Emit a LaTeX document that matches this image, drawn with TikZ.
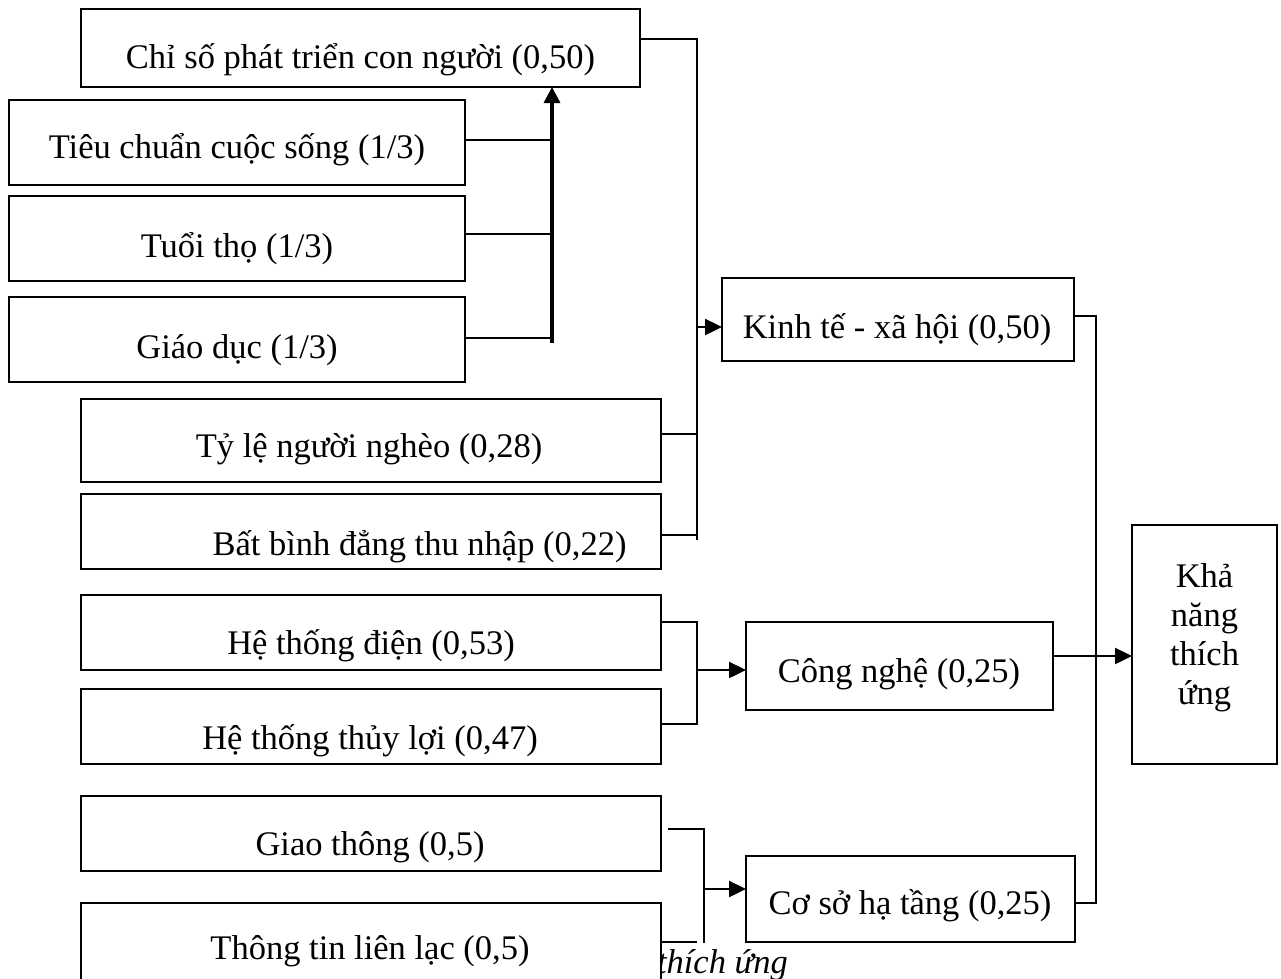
\documentclass[tikz,border=0pt]{standalone}
\usepackage{fontspec}
\setmainfont{Liberation Serif}
\usetikzlibrary{arrows.meta}
\begin{document}
\begin{tikzpicture}[x=1pt,y=-1pt,
  box/.style={draw,line width=2.8pt,fill=white,rectangle,inner sep=0pt,outer sep=0pt},
  tx/.style={anchor=base,inner sep=0pt,outer sep=0pt,font=\fontsize{34.5}{39}\selectfont},
  ln/.style={line width=2.4pt},
  arr/.style={ln,-{Triangle[length=17pt,width=16pt]}},
  arrthick/.style={line width=3.2pt,-{Triangle[length=16pt,width=16pt]}}]
\useasboundingbox (0,0) rectangle (1281,978);
\clip (0,0) rectangle (1281,978);
% caption fragment (behind the last box)
\node[tx,anchor=base west,font=\fontsize{34.5}{39}\selectfont\itshape] (cap) at (657,973) {thích ứng};
% boxes
\node[box,minimum width=559pt,minimum height=78pt] (hdi) at (360.5,48) {};
\node[box,minimum width=456pt,minimum height=85pt] (tieu) at (237,142.5) {};
\node[box,minimum width=456pt,minimum height=85pt] (tuoi) at (237,238.5) {};
\node[box,minimum width=456pt,minimum height=85pt] (giao) at (237,339.5) {};
\node[box,minimum width=580pt,minimum height=83pt] (tyle) at (371,440.5) {};
\node[box,minimum width=580pt,minimum height=75pt] (batbinh) at (371,531.5) {};
\node[box,minimum width=580pt,minimum height=75pt] (dien) at (371,632.5) {};
\node[box,minimum width=580pt,minimum height=75pt] (thuyloi) at (371,726.5) {};
\node[box,minimum width=580pt,minimum height=75pt] (giaothong) at (371,833.5) {};
\node[box,minimum width=580pt,minimum height=97pt] (ttll) at (371,951.5) {};
\node[box,minimum width=352pt,minimum height=83pt] (kt) at (898,319.5) {};
\node[box,minimum width=307pt,minimum height=88pt] (cn) at (899.5,666) {};
\node[box,minimum width=329pt,minimum height=86pt] (cs) at (910.5,899) {};
\node[box,minimum width=145pt,minimum height=239pt] (kn) at (1204.5,644.5) {};
% texts
\node[tx] (thdi) at (360.5,68) {Chỉ số phát triển con người (0,50)};
\node[tx] (ttieu) at (237,158) {Tiêu chuẩn cuộc sống (1/3)};
\node[tx] (ttuoi) at (237,257) {Tuổi thọ (1/3)};
\node[tx] (tgiao) at (237,358) {Giáo dục (1/3)};
\node[tx] (ttyle) at (369,457) {Tỷ lệ người nghèo (0,28)};
\node[tx] (tbb) at (419.5,555) {Bất bình đẳng thu nhập (0,22)};
\node[tx] (tdien) at (371,654) {Hệ thống điện (0,53)};
\node[tx] (ttl) at (370,749) {Hệ thống thủy lợi (0,47)};
\node[tx] (tgt) at (370,855) {Giao thông (0,5)};
\node[tx] (tttll) at (370,959) {Thông tin liên lạc (0,5)};
\node[tx] (tkt) at (897,338) {Kinh tế - xã hội (0,50)};
\node[tx] (tcn) at (899,682) {Công nghệ (0,25)};
\node[tx] (tcs) at (910,914) {Cơ sở hạ tầng (0,25)};
\node[tx,align=center] (tkn) at (1204.5,704) {Khả\\năng\\thích\\ứng};
% HDI sub-indicators
\coordinate (b1) at (552,140);
\coordinate (b2) at (552,234);
\coordinate (b3) at (552,338);
\coordinate (b0) at (552,343);
\draw[ln] (tieu.east |- b1) -- (b1);
\draw[ln] (tuoi.east |- b2) -- (b2);
\draw[ln] (giao.east |- b3) -- (b3);
\draw[arrthick] (b0) -- (b0 |- hdi.south);
% socio-economic bus
\coordinate (k0) at (697,39);
\coordinate (k1) at (697,540);
\coordinate (k2) at (697,434);
\coordinate (k3) at (697,535);
\coordinate (k4) at (697,327);
\draw[ln] (hdi.east |- k0) -- (k0) -- (k1);
\draw[ln] (tyle.east |- k2) -- (k2);
\draw[ln] (batbinh.east |- k3) -- (k3);
\draw[arr] (k4) -- (k4 -| kt.west);
% technology bus
\coordinate (c1) at (697,622);
\coordinate (c2) at (697,724);
\coordinate (c3) at (697,670);
\draw[ln] (dien.east |- c1) -- (c1) -- (c2) -- (thuyloi.east |- c2);
\draw[arr] (c3) -- (c3 -| cn.west);
% infrastructure bus
\coordinate (s0) at (668,829);
\coordinate (s1) at (704,829);
\coordinate (s2) at (704,943);
\coordinate (s3) at (697,942);
\coordinate (s4) at (704,889);
\draw[ln] (s0) -- (s1) -- (s2);
\draw[ln] (ttll.east |- s3) -- (s3);
\draw[arr] (s4) -- (s4 -| cs.west);
% final aggregation
\coordinate (f0) at (1096,316);
\coordinate (f1) at (1096,903);
\coordinate (f2) at (1100,656);
\draw[ln] (kt.east |- f0) -- (f0) -- (f1) -- (cs.east |- f1);
\draw[arr] (cn.east |- f2) -- (kn.west |- f2);
\end{tikzpicture}
\end{document}
